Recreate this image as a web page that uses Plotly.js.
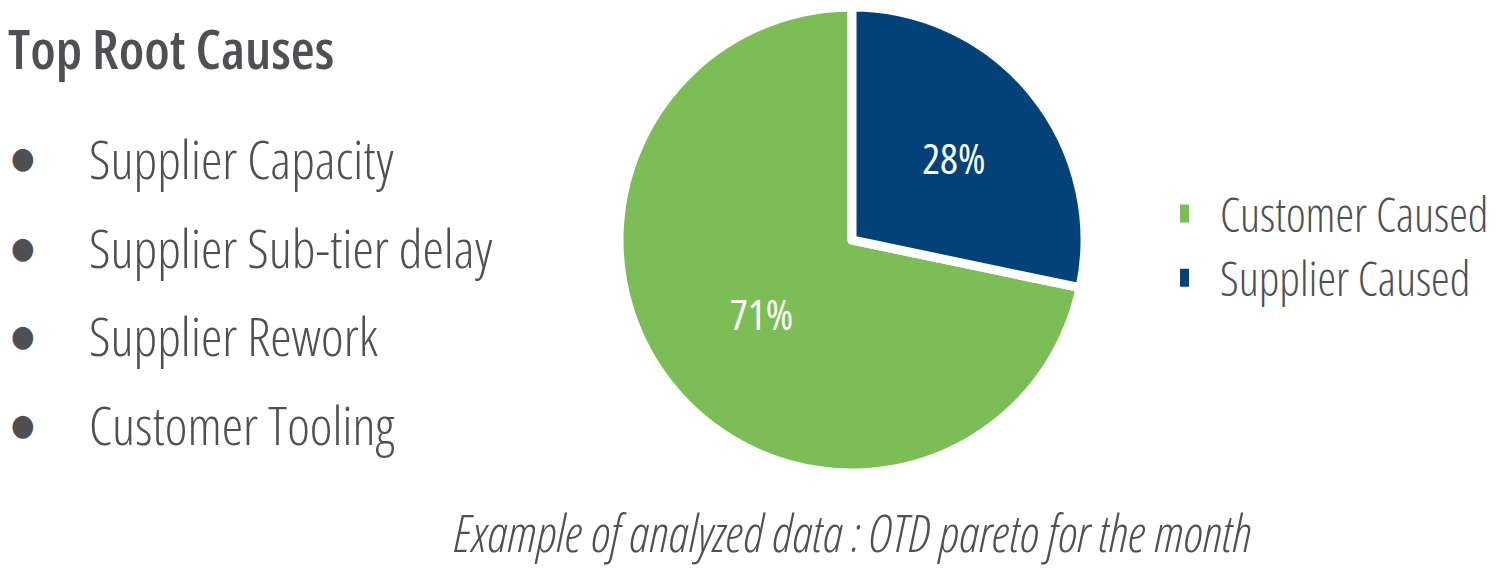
<!DOCTYPE html>
<html>
<head>
<meta charset="utf-8">
<script src="https://cdn.plot.ly/plotly-3.0.1.min.js"></script>
<style>
  html, body { margin: 0; padding: 0; background: #ffffff; }
  #chart { width: 1512px; height: 568px; }
  text { font-stretch: condensed; }
  path.legendpie { stroke-width: 0 !important; transform: scale(1.5); }
</style>
</head>
<body>
<div id="chart"></div>
<script>
// ---- data ----
const sliceLabels = ['Customer Caused', 'Supplier Caused'];
const sliceValues = [71, 28];
const sliceText = ['71%', '28%'];
const sliceColors = ['#7dbd56', '#024279'];
const heading = 'Top Root Causes';
const rootCauses = ['Supplier Capacity', 'Supplier Sub-tier delay', 'Supplier Rework', 'Customer Tooling'];
const caption = 'Example of analyzed data : OTD pareto for the month';

// ---- layout helpers ----
const W = 1512, H = 568;
const FONT = '"Open Sans", "Roboto Condensed", sans-serif';
const TEXT_COLOR = '#4f5053';
const px = x => x / W;
const py = y => 1 - y / H;

const total = sliceValues.reduce((a, b) => a + b, 0);
// first slice (Customer) starts where the Supplier slice (from 12 o'clock, clockwise) ends
const rotation = 360 * sliceValues[1] / total;

const pieTrace = {
  type: 'pie',
  labels: sliceLabels,
  values: sliceValues,
  text: sliceText,
  textinfo: 'text',
  textposition: 'inside',
  insidetextorientation: 'horizontal',
  sort: false,
  direction: 'clockwise',
  rotation: rotation,
  marker: { colors: sliceColors, line: { color: '#ffffff', width: 9 } },
  textfont: { family: FONT, size: 42, color: '#ffffff', weight: 400 },
  domain: { x: [px(619), px(1085)], y: [py(473), py(7)] },
  hoverinfo: 'label+percent'
};

const annotations = [];
const lineY = [158, 247, 335, 424];
rootCauses.forEach((t, i) => {
  annotations.push({
    xref: 'paper', yref: 'paper', x: px(23), y: py(lineY[i]),
    xanchor: 'center', yanchor: 'middle', showarrow: false,
    text: '\u25CF',
    font: { family: '"DejaVu Sans", sans-serif', size: 30, color: TEXT_COLOR, weight: 400 }
  });
  annotations.push({
    xref: 'paper', yref: 'paper', x: px(87), y: py(lineY[i]),
    xanchor: 'left', yanchor: 'middle', showarrow: false,
    text: t, font: { family: FONT, size: 54, color: TEXT_COLOR, weight: 300 }
  });
});
annotations.push({
  xref: 'paper', yref: 'paper', x: px(853), y: py(532),
  xanchor: 'center', yanchor: 'middle', showarrow: false,
  text: caption,
  font: { family: FONT, size: 51, color: TEXT_COLOR, weight: 300, style: 'italic' }
});

const layout = {
  width: W, height: H,
  margin: { l: 0, r: 0, t: 0, b: 0, autoexpand: false },
  paper_bgcolor: '#ffffff',
  plot_bgcolor: '#ffffff',
  title: {
    text: heading,
    x: px(8), xanchor: 'left', xref: 'paper',
    y: py(50), yanchor: 'middle', yref: 'paper',
    font: { family: FONT, size: 55, color: TEXT_COLOR, weight: 600 }
  },
  showlegend: true,
  legend: {
    x: px(1180), xanchor: 'left',
    y: py(246), yanchor: 'middle',
    font: { family: FONT, size: 47, color: TEXT_COLOR, weight: 300 },
    bgcolor: 'rgba(0,0,0,0)',
    traceorder: 'normal'
  },
  annotations: annotations
};

Plotly.newPlot('chart', [pieTrace], layout, { displayModeBar: false, staticPlot: true });
</script>
</body>
</html>
